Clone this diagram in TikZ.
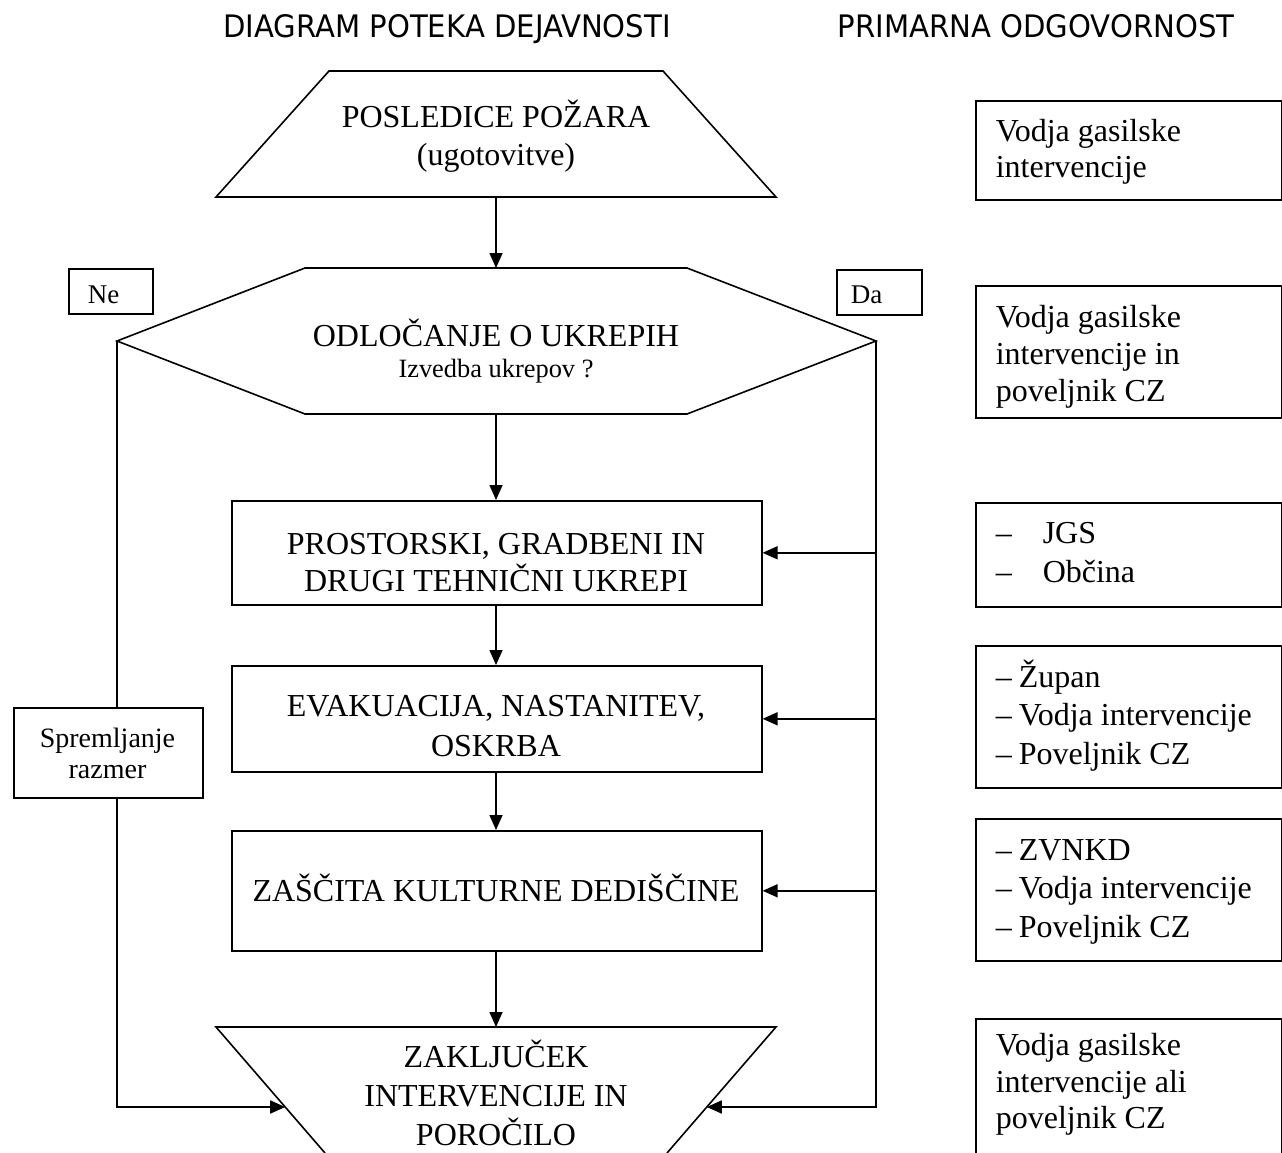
\documentclass[tikz,border=0pt]{standalone}
\usepackage{fontspec}
\setmainfont{Liberation Serif}
\newfontfamily\titlefont{DejaVu Sans}
\usetikzlibrary{arrows.meta,calc}
\begin{document}
\begin{tikzpicture}[x=1pt,y=-1pt,line width=1.6pt,
  conn/.style={-{Triangle[length=15pt,width=13pt]}},
  ttl/.style={font=\titlefont\fontsize{31}{36}\selectfont,anchor=base,inner sep=0},
  big/.style={font=\fontsize{32}{37}\selectfont,anchor=base,inner sep=0},
  rtxt/.style={font=\fontsize{32}{37}\selectfont,anchor=base west,inner sep=0},
  small/.style={font=\fontsize{27}{30}\selectfont,anchor=base,inner sep=0},
  box/.style={draw,rectangle,anchor=north west,inner sep=0}]
\useasboundingbox (0,0) rectangle (1282,1153);
\fill[white] (0,0) rectangle (1282,1153);

% titles
\node[ttl] (title1) at (447,38) {\scalebox{0.94}[1]{DIAGRAM POTEKA DEJAVNOSTI}};
\node[ttl] (title2) at (1036,38) {\scalebox{0.94}[1]{PRIMARNA ODGOVORNOST}};

% top trapezoid
\coordinate (A1) at (329,71); \coordinate (A2) at (663,71);
\coordinate (A3) at (776,197); \coordinate (A4) at (216,197);
\draw (A1)--(A2)--(A3)--(A4)--cycle;
\coordinate (Aout) at (496,197);
\node[big] (t1a) at (496,128) {POSLEDICE POŽARA};
\node[big] (t1b) at (496,165) {(ugotovitve)};

% hexagon
\coordinate (H1) at (117,341); \coordinate (H2) at (305,268);
\coordinate (H3) at (687,268); \coordinate (H4) at (876,341);
\coordinate (H5) at (687,414); \coordinate (H6) at (305,414);
\draw (H1)--(H2)--(H3)--(H4)--(H5)--(H6)--cycle;
\coordinate (Hin) at (496,268); \coordinate (Hout) at (496,414);
\node[big] (t2a) at (496,346) {ODLOČANJE O UKREPIH};
\node[font=\fontsize{26.4}{30}\selectfont,anchor=base,inner sep=0] (t2b) at (496,377) {Izvedba ukrepov ?};

% Ne / Da
\node[box,minimum width=84,minimum height=45] (ne) at (68,268) {};
\node[small,anchor=base west] (net) at (87,303) {Ne};
\node[box,minimum width=85,minimum height=45] (da) at (836,269) {};
\node[small,anchor=base west] (dat) at (850,303) {Da};

% main boxes
\node[box,minimum width=530,minimum height=104] (b1) at (231,500) {};
\node[big] (b1a) at (496,554) {PROSTORSKI, GRADBENI IN};
\node[big] (b1b) at (496,591) {DRUGI TEHNIČNI UKREPI};
\node[box,minimum width=530,minimum height=106] (b2) at (231,665) {};
\node[big] (b2a) at (496,716) {EVAKUACIJA, NASTANITEV,};
\node[big] (b2b) at (496,756) {OSKRBA};
\node[box,minimum width=530,minimum height=120] (b3) at (231,830) {};
\node[big] (b3a) at (496,901) {ZAŠČITA KULTURNE DEDIŠČINE};

% bottom trapezoid (cut by lower edge)
\coordinate (BT1) at (216,1027); \coordinate (BT2) at (776,1027);
\coordinate (BB1) at (325,1153); \coordinate (BB2) at (667,1153);
\draw (BB1)--(BT1)--(BT2)--(BB2);
\coordinate (Bin) at (496,1027);
\coordinate (bl) at ($(BT1)!0.635!(BB1)$);
\coordinate (br) at ($(BT2)!0.635!(BB2)$);
\node[big] (t4a) at (496,1067) {ZAKLJUČEK};
\node[big] (t4b) at (496,1106) {INTERVENCIJE IN};
\node[big] (t4c) at (496,1145) {POROČILO};

% monitoring box
\node[box,minimum width=189,minimum height=90] (sp) at (13,707) {};
\node[font=\fontsize{28}{30}\selectfont,anchor=base,inner sep=0] (spa) at (107.5,747) {Spremljanje};
\node[font=\fontsize{28}{30}\selectfont,anchor=base,inner sep=0] (spb) at (107.5,778) {razmer};

% flow connectors
\draw[conn] (Aout) -- (Hin);
\draw[conn] (Hout) -- (b1.north -| Hout);
\draw[conn] (b1.south -| Hout) -- (b2.north -| Hout);
\draw[conn] (b2.south -| Hout) -- (b3.north -| Hout);
\draw[conn] (b3.south -| Hout) -- (Bin);

% right branch (Da)
\draw[conn] (H4) |- (br);
\draw[conn] (H4 |- b1.east) -- (b1.east);
\draw[conn] (H4 |- b2.east) -- (b2.east);
\draw[conn] (H4 |- b3.east) -- (b3.east);

% left branch (Ne)
\draw (H1) -- (H1 |- sp.north);
\draw[conn] (H1 |- sp.south) |- (bl);

% responsibility boxes
\node[box,minimum width=306,minimum height=99] (ra) at (975,100) {};
\node[rtxt] (raa) at (995,142) {Vodja gasilske};
\node[rtxt] (rab) at (995,177) {intervencije};

\node[box,minimum width=306,minimum height=132] (rb) at (975,285) {};
\node[rtxt] (rba) at (995,327) {Vodja gasilske};
\node[rtxt] (rbb) at (995,364) {intervencije in};
\node[rtxt] (rbc) at (995,401) {poveljnik CZ};

\node[box,minimum width=306,minimum height=104] (rc) at (975,502) {};
\node[rtxt] (rca) at (995,543) {\makebox[47pt][l]{–}JGS};
\node[rtxt] (rcb) at (995,582) {\makebox[47pt][l]{–}Občina};

\node[box,minimum width=306,minimum height=142] (rd) at (975,645) {};
\node[rtxt] (rda) at (995,687) {\makebox[23pt][l]{–}Župan};
\node[rtxt] (rdb) at (995,725) {\makebox[23pt][l]{–}Vodja intervencije};
\node[rtxt] (rdc) at (995,764) {\makebox[23pt][l]{–}Poveljnik CZ};

\node[box,minimum width=306,minimum height=142] (re) at (975,818) {};
\node[rtxt] (rea) at (995,860) {\makebox[23pt][l]{–}ZVNKD};
\node[rtxt] (reb) at (995,898) {\makebox[23pt][l]{–}Vodja intervencije};
\node[rtxt] (rec) at (995,937) {\makebox[23pt][l]{–}Poveljnik CZ};

\node[box,minimum width=306,minimum height=160] (rf) at (975,1018) {};
\node[rtxt] (rfa) at (995,1055) {Vodja gasilske};
\node[rtxt] (rfb) at (995,1092) {intervencije ali};
\node[rtxt] (rfc) at (995,1128) {poveljnik CZ};
\end{tikzpicture}
\end{document}
